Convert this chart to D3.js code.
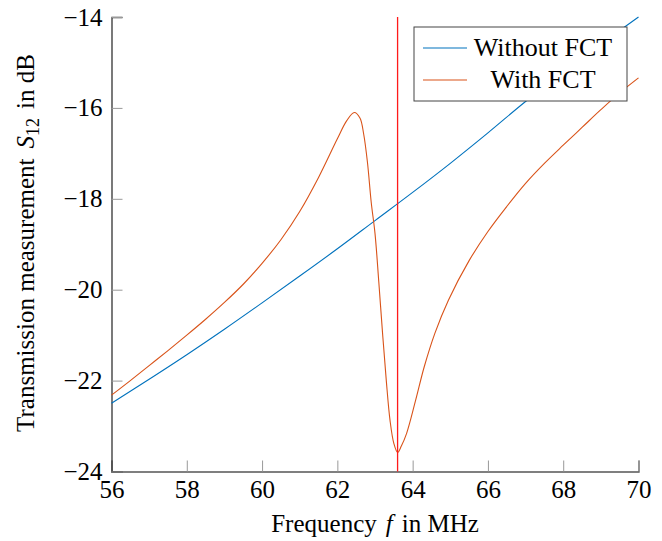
<!DOCTYPE html>
<html>
<head>
<meta charset="utf-8">
<script src="https://cdn.jsdelivr.net/npm/d3@7/dist/d3.min.js"></script>
<style>
  html, body { margin: 0; padding: 0; background: #fff; }
</style>
</head>
<body>
<svg id="chart" width="662" height="541"></svg>
<script>
// Frequency in MHz and measured S12 in dB
const freqWithout = [56, 57, 58, 59, 60, 61, 62, 63, 64, 65, 66, 67, 68, 69, 70];
const s12Without  = [-22.50, -21.97, -21.43, -20.87, -20.29, -19.70, -19.10, -18.48,
                     -17.86, -17.22, -16.55, -15.86, -15.22, -14.60, -14.00];

const freqWith = [56, 56.5, 57, 57.5, 58, 58.5, 59, 59.5, 60, 60.5, 61, 61.5, 62, 62.25,
                  62.45, 62.6, 62.7, 62.8, 62.9, 63.0, 63.1, 63.2, 63.3, 63.4, 63.5, 63.6,
                  63.7, 63.84, 64.08, 64.31, 64.59, 64.95, 65.5, 66.0, 66.5, 67.0, 67.5,
                  68.0, 68.5, 69.0, 69.5, 70.0];
const s12With  = [-22.32, -22.00, -21.67, -21.34, -21.00, -20.65, -20.28, -19.88, -19.42,
                  -18.90, -18.28, -17.53, -16.68, -16.28, -16.10, -16.22, -16.58, -17.20,
                  -18.08, -18.76, -19.82, -20.95, -22.00, -22.88, -23.38, -23.58,
                  -23.44, -23.16, -22.43, -21.69, -20.96, -20.23, -19.36, -18.72, -18.17,
                  -17.66, -17.22, -16.82, -16.43, -16.04, -15.67, -15.34];

const markerFreq = 63.6;

const xTicks = [56, 58, 60, 62, 64, 66, 68, 70];
const yTicks = [-24, -22, -20, -18, -16, -14];

const seriesNames  = ["Without FCT", "With FCT"];
const seriesColors = ["#0072BD", "#D95319"];

const serif = '"Liberation Serif", "Times New Roman", "DejaVu Serif", serif';

const svg = d3.select("#chart");
const plotLeft = 111.5, plotRight = 638.5, plotTop = 17, plotBottom = 471.5;

const x = d3.scaleLinear().domain([56, 70]).range([plotLeft, plotRight]);
const y = d3.scaleLinear().domain([-24, -14]).range([plotBottom, plotTop]);

const fmt = d => (d < 0 ? "\u2212" + Math.abs(d) : String(d));

// x axis with inward ticks
const xAxis = svg.append("g")
  .attr("transform", `translate(0,${plotBottom})`)
  .call(d3.axisBottom(x).tickValues(xTicks).tickSize(-11).tickPadding(21).tickFormat(fmt));
xAxis.select(".domain").attr("stroke", "#555").attr("stroke-width", 1.3);
xAxis.selectAll(".tick line").attr("stroke", "#999");
xAxis.selectAll(".tick text")
  .style("font-family", serif).style("font-size", "25px").attr("fill", "#000").attr("dy", "0.2em");

// y axis with inward ticks
const yAxis = svg.append("g")
  .attr("transform", `translate(${plotLeft},0)`)
  .call(d3.axisLeft(y).tickValues(yTicks).tickSize(-11).tickPadding(9).tickFormat(fmt));
yAxis.select(".domain").attr("stroke", "#333").attr("stroke-width", 1.3);
yAxis.selectAll(".tick line").attr("stroke", "#999");
yAxis.selectAll(".tick text")
  .style("font-family", serif).style("font-size", "25px").attr("fill", "#000");

// Curves
const line = d3.line().x(d => x(d[0])).y(d => y(d[1])).curve(d3.curveCatmullRom.alpha(0.5));
const series = [
  d3.zip(freqWithout, s12Without),
  d3.zip(freqWith, s12With)
];
series.forEach((pts, i) => {
  svg.append("path")
    .datum(pts)
    .attr("fill", "none")
    .attr("stroke", seriesColors[i])
    .attr("stroke-width", 1.1)
    .attr("d", line);
});

// Vertical marker
svg.append("line")
  .attr("x1", x(markerFreq)).attr("x2", x(markerFreq))
  .attr("y1", y(-14)).attr("y2", y(-24))
  .attr("stroke", "#ff1a1a").attr("stroke-width", 1.3);

// Legend
const lg = svg.append("g").attr("transform", "translate(414,27)");
lg.append("rect").attr("width", 213).attr("height", 74)
  .attr("fill", "#fff").attr("stroke", "#444").attr("stroke-width", 1);
seriesNames.forEach((name, i) => {
  const cy = 21 + i * 32;
  lg.append("line").attr("x1", 9).attr("x2", 53).attr("y1", cy).attr("y2", cy)
    .attr("stroke", seriesColors[i]).attr("stroke-width", 1.1);
  lg.append("text").attr("x", 129).attr("y", cy + 8)
    .attr("text-anchor", "middle")
    .style("font-family", serif).style("font-size", "26px").text(name);
});

// Axis titles
const xt = svg.append("text")
  .attr("x", 375).attr("y", 532)
  .attr("text-anchor", "middle")
  .style("font-family", serif).style("font-size", "25px");
xt.append("tspan").text("Frequency");
xt.append("tspan").attr("dx", 9).style("font-style", "italic").text("f");
xt.append("tspan").attr("dx", 9).text("in MHz");

const yt = svg.append("text")
  .attr("transform", "translate(34,243) rotate(-90)")
  .attr("text-anchor", "middle")
  .style("font-family", serif).style("font-size", "25px");
yt.append("tspan").text("Transmission measurement");
yt.append("tspan").attr("dx", 10).style("font-style", "italic").text("S");
yt.append("tspan").style("font-size", "18px").attr("dy", 5).text("12");
yt.append("tspan").attr("dy", -5).attr("dx", 9).text("in dB");
</script>
</body>
</html>
